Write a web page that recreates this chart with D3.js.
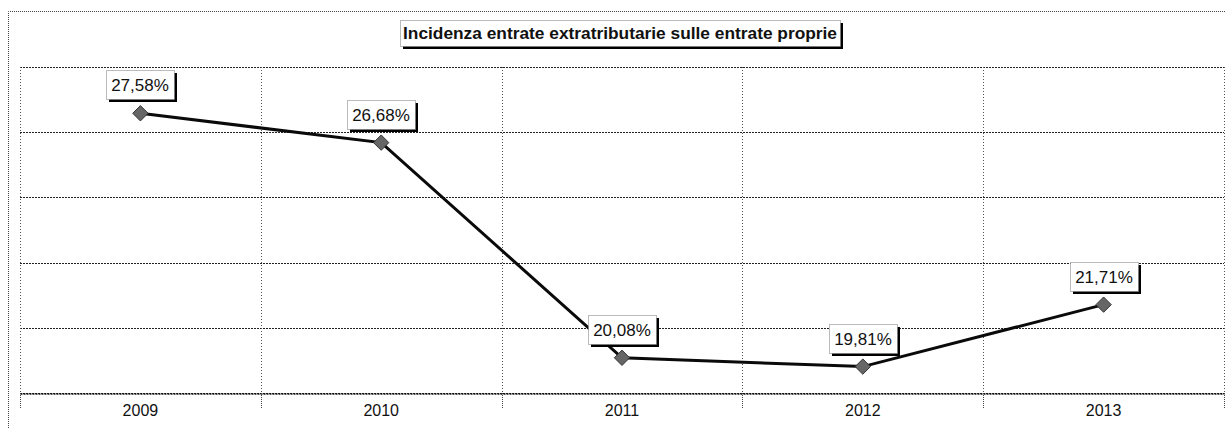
<html>
  <head>
    <meta charset="utf-8">
    <script src="https://d3js.org/d3.v7.min.js"></script>
    <style>
      body { margin: 0; background: #fff; }
      text { font-family: "Liberation Sans", Arial, sans-serif; }
    </style>
  </head>
  <body>
  <div id="chart"></div>
  <script>

  var anni = ["2009", "2010", "2011", "2012", "2013"];
  var incidenza = [27.58, 26.68, 20.08, 19.81, 21.71];
  var yTicks = [19, 21, 23, 25, 27, 29];
  var titolo = "Incidenza entrate extratributarie sulle entrate proprie";

  var W = 1225, H = 428;
  var mLeft = 20, mRight = 1224, mTop = 67, mBottom = 393;

  var it = d3.formatLocale({decimal: ",", thousands: ".", grouping: [3], currency: ["€", ""]});
  var fmt = it.format(".2f");

  var svg = d3.select("#chart").append("svg")
      .attr("width", W).attr("height", H);

  // cornice esterna
  svg.append("path")
      .attr("d", "M8.5," + H + "V11.5H" + W)
      .attr("fill", "none").attr("stroke", "#444")
      .attr("stroke-dasharray", "1,1");

  var x = d3.scaleBand().domain(anni).range([mLeft, mRight]).padding(0);
  var y = d3.scaleLinear().domain([19, 29]).range([mBottom, mTop]);

  // griglia orizzontale
  svg.append("g").selectAll("line").data(yTicks).enter().append("line")
      .attr("x1", mLeft).attr("x2", mRight)
      .attr("y1", function(d) { return Math.round(y(d)) + 0.5; })
      .attr("y2", function(d) { return Math.round(y(d)) + 0.5; })
      .attr("stroke", "#222").attr("stroke-dasharray", "2,1");

  // griglia verticale
  var bordi = anni.map(function(a) { return x(a); }).concat([mRight]);
  svg.append("g").selectAll("line").data(bordi).enter().append("line")
      .attr("x1", function(d) { return Math.round(d) + 0.5; })
      .attr("x2", function(d) { return Math.round(d) + 0.5; })
      .attr("y1", mTop).attr("y2", mBottom)
      .attr("stroke", "#555").attr("stroke-dasharray", "1,2");

  // asse x
  var xAxis = d3.axisBottom(x).tickSize(0).tickPadding(11);
  var gx = svg.append("g").attr("transform", "translate(0," + (mBottom + 0.5) + ")").call(xAxis);
  gx.select(".domain").attr("stroke", "#111").attr("stroke-width", 1.6).attr("stroke-dasharray", "2,1");
  gx.selectAll("text").attr("font-size", 16).attr("fill", "#111")
      .attr("font-family", "Liberation Sans, Arial, sans-serif");
  svg.append("g").selectAll("line").data(bordi).enter().append("line")
      .attr("x1", function(d) { return Math.round(d) + 0.5; })
      .attr("x2", function(d) { return Math.round(d) + 0.5; })
      .attr("y1", mBottom).attr("y2", mBottom + 16)
      .attr("stroke", "#444").attr("stroke-dasharray", "1,1");

  // linea
  var cx = function(d, i) { return x(anni[i]) + x.bandwidth() / 2; };
  var line = d3.line().x(cx).y(function(d) { return y(d); });
  svg.append("path").datum(incidenza)
      .attr("d", line).attr("fill", "none")
      .attr("stroke", "#0a0a0a").attr("stroke-width", 3);

  // marcatori
  svg.append("g").selectAll("path").data(incidenza).enter().append("path")
      .attr("d", d3.symbol().type(d3.symbolDiamond2).size(150))
      .attr("transform", function(d, i) { return "translate(" + cx(d, i) + "," + y(d) + ")"; })
      .attr("fill", "#666").attr("stroke", "#333").attr("stroke-width", 1);

  // etichette
  var bw = 68, bh = 29;
  var lab = svg.append("g").selectAll("g").data(incidenza).enter().append("g")
      .attr("transform", function(d, i) {
        return "translate(" + Math.round(cx(d, i) - bw / 2) + "," + Math.round(y(d) - 14 - bh) + ")";
      });
  lab.append("rect").attr("x", 3).attr("y", 3).attr("width", bw).attr("height", bh).attr("fill", "#000");
  lab.append("rect").attr("x", 0.5).attr("y", 0.5).attr("width", bw).attr("height", bh)
      .attr("fill", "#fff").attr("stroke", "#777").attr("stroke-dasharray", "1,1");
  lab.append("text").attr("x", bw / 2).attr("y", bh / 2 + 6)
      .attr("text-anchor", "middle").attr("font-size", 17).attr("fill", "#111")
      .text(function(d) { return fmt(d) + "%"; });

  // titolo
  var tg = svg.append("g");
  var tt = tg.append("text").attr("x", 620).attr("y", 39)
      .attr("text-anchor", "middle").attr("font-size", 16.5).attr("font-weight", "bold")
      .attr("textLength", 434).attr("lengthAdjust", "spacingAndGlyphs")
      .attr("fill", "#111").text(titolo);
  var bb = tt.node().getBBox();
  tg.insert("rect", "text").attr("x", bb.x - 3 + 3).attr("y", 20 + 3)
      .attr("width", bb.width + 6).attr("height", 26).attr("fill", "#000");
  tg.insert("rect", "text").attr("x", bb.x - 3 + 0.5).attr("y", 20.5)
      .attr("width", bb.width + 6).attr("height", 26)
      .attr("fill", "#fff").attr("stroke", "#777").attr("stroke-dasharray", "1,1");

  </script>
  </body>
</html>
